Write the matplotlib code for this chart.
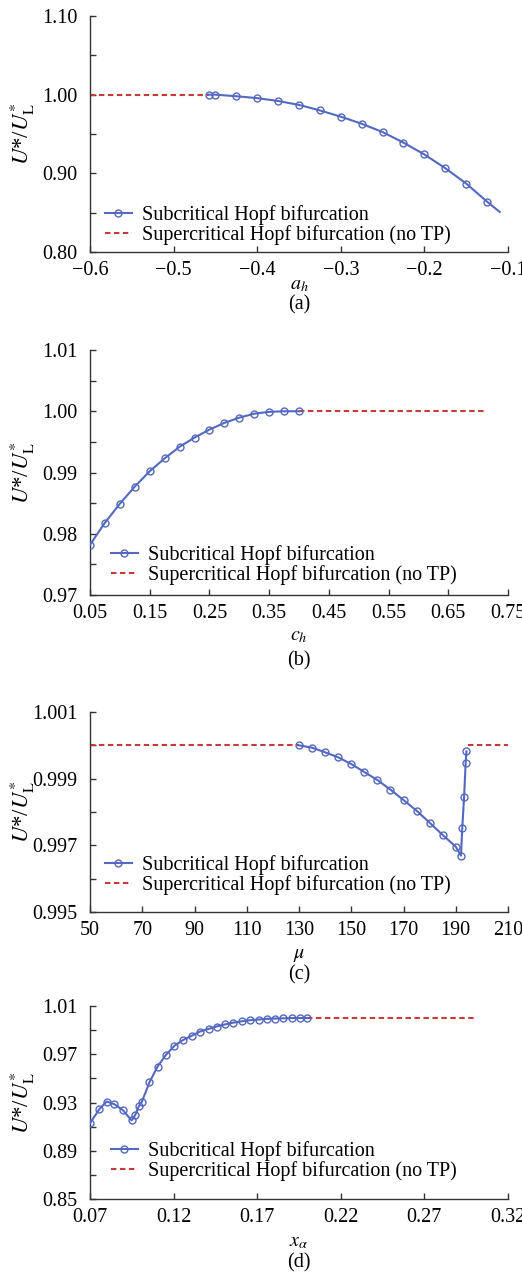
import matplotlib
matplotlib.use("Agg")
import matplotlib.pyplot as plt
from matplotlib.ticker import FuncFormatter

plt.rcParams['font.family'] = ['Liberation Serif', 'DejaVu Serif']
plt.rcParams['mathtext.fontset'] = 'stix'

# ---------------- data ----------------
# (a) a_h
a_sub_x = [-0.458, -0.45, -0.425, -0.40, -0.375, -0.35, -0.325, -0.30, -0.275, -0.25,
           -0.225, -0.20, -0.175, -0.15, -0.125, -0.11]
a_sub_y = [1.000, 1.000, 0.998, 0.9956, 0.992, 0.987, 0.980, 0.972, 0.963, 0.9525,
           0.939, 0.924, 0.9065, 0.887, 0.864, 0.851]
a_sub_mark = list(range(15))
a_sup_x = [-0.60, -0.458]
a_sup_y = [1.000, 1.000]
a_xticks = [-0.6, -0.5, -0.4, -0.3, -0.2, -0.1]
a_yticks = [0.80, 0.90, 1.00, 1.10]
a_yminor = [0.85, 0.95, 1.05]

# (b) c_h
b_sub_x = [0.05, 0.075, 0.10, 0.125, 0.15, 0.175, 0.20, 0.225, 0.25, 0.275, 0.30, 0.325, 0.35, 0.375, 0.40]
b_sub_y = [0.9782, 0.9818, 0.9849, 0.9877, 0.9902, 0.9923, 0.9942, 0.9957, 0.9970, 0.9981,
           0.99895, 0.9996, 0.9999, 1.0000, 1.0000]
b_sup_x = [0.40, 0.71]
b_sup_y = [1.000, 1.000]
b_xticks = [0.05, 0.15, 0.25, 0.35, 0.45, 0.55, 0.65, 0.75]
b_yticks = [0.97, 0.98, 0.99, 1.00, 1.01]
b_yminor = [0.975, 0.985, 0.995, 1.005]

# (c) mu
c_sub_x = [130, 135, 140, 145, 150, 155, 160, 165, 170, 175, 180, 185, 190, 192, 192.5, 193.2, 193.8, 194.1]
c_sub_y = [1.0000, 0.99993, 0.99979, 0.99964, 0.99944, 0.99920, 0.99896, 0.99867, 0.99836,
           0.99804, 0.99768, 0.99731, 0.99696, 0.99669, 0.99753, 0.99846, 0.99948, 0.99982]
c_sup1_x = [50, 130]
c_sup1_y = [1.000, 1.000]
c_sup2_x = [194.5, 210]
c_sup2_y = [1.000, 1.000]
c_xticks = [50, 70, 90, 110, 130, 150, 170, 190, 210]
c_yticks = [0.995, 0.997, 0.999, 1.001]
c_yminor = [0.996, 0.998, 1.000]

# (d) x_alpha
d_sub_x = [0.070, 0.0756, 0.080, 0.0845, 0.0895, 0.0949, 0.0971, 0.0991, 0.1011, 0.1055,
           0.1104, 0.1154, 0.1204, 0.1254, 0.131, 0.1357, 0.1409, 0.1457, 0.1509, 0.1557,
           0.1608, 0.1656, 0.1708, 0.1756, 0.1808, 0.1855, 0.1907, 0.1955, 0.200]
d_sub_y = [0.9129, 0.9245, 0.9308, 0.9286, 0.9239, 0.9151, 0.9198, 0.9267, 0.9308, 0.9466,
           0.9598, 0.9694, 0.9769, 0.9816, 0.9854, 0.9888, 0.9910, 0.9930, 0.9948, 0.9962,
           0.9973, 0.9982, 0.9988, 0.9993, 0.9996, 0.9998, 1.0000, 1.0000, 1.0000]
d_sup_x = [0.200, 0.300]
d_sup_y = [1.000, 1.000]
d_xticks = [0.07, 0.12, 0.17, 0.22, 0.27, 0.32]
d_yticks = [0.85, 0.89, 0.93, 0.97, 1.01]
d_yminor = [0.87, 0.91, 0.95, 0.99]

sub_label = 'Subcritical Hopf bifurcation'
sup_label = 'Supercritical Hopf bifurcation (no TP)'
ylabel = r'$U$*/$U^{*}_{\mathrm{L}}$'

BLUE = '#5468c0'
RED = '#c83a3a'
FS = 14.5

W, H = 522.0, 1276.0
fig = plt.figure(figsize=(W / 100, H / 100), dpi=100)

L, R = 90 / W, 508 / W
panels = [
    dict(top=16, bot=252, xl=r'$a_h$', xly=285, cap='(a)', capy=305),
    dict(top=350, bot=595, xl=r'$c_h$', xly=636, cap='(b)', capy=661),
    dict(top=712, bot=912, xl=r'$\mu$', xly=954, cap='(c)', capy=975),
    dict(top=1006, bot=1199, xl=r'$x_\alpha$', xly=1242, cap='(d)', capy=1263),
]
axes = []
for p in panels:
    ax = fig.add_axes([L, 1 - p['bot'] / H, R - L, (p['bot'] - p['top']) / H])
    axes.append(ax)
    xc = (L + R) / 2
    fig.text(xc, 1 - p['xly'] / H, p['xl'], ha='center', va='center', fontsize=FS)
    fig.text(xc, 1 - p['capy'] / H, p['cap'], ha='center', va='center', fontsize=FS)
    fig.text(22 / W, 1 - (p['top'] + p['bot']) / 2 / H, ylabel, rotation=90,
             ha='center', va='center', fontsize=16.5)


def fmt(spec):
    return FuncFormatter(lambda v, pos: (spec % v).replace('-', '\u2212'))


def style(ax, xticks, xfmt, yticks, yminor, yfmt):
    ax.set_xlim(xticks[0], xticks[-1])
    ax.set_ylim(yticks[0], yticks[-1])
    ax.set_xticks(xticks)
    ax.set_yticks(yticks)
    ax.set_yticks(yminor, minor=True)
    ax.xaxis.set_major_formatter(fmt(xfmt))
    ax.yaxis.set_major_formatter(fmt(yfmt))
    for s in ['top', 'right']:
        ax.spines[s].set_visible(False)
    for s in ['left', 'bottom']:
        ax.spines[s].set_color('#333333')
        ax.spines[s].set_linewidth(1.0)
    ax.tick_params(which='both', direction='in', color='#333333', width=1.0, length=4,
                   labelsize=FS)
    ax.tick_params(axis='y', which='both', pad=9)
    ax.tick_params(axis='x', which='both', pad=6.5)


def sub(ax, x, y, marks=None):
    ax.plot(x, y, color=BLUE, lw=1.5, marker='o', ms=5, mfc='none', mec=BLUE, mew=1.0,
            markevery=marks, label=sub_label, zorder=3)


def sup(ax, x, y, label=True):
    ax.plot(x, y, color=RED, lw=1.5, ls=(0, (2.6, 1.7)), label=sup_label if label else None, zorder=2)


def leg(ax, x0, y0):
    h, l = ax.get_legend_handles_labels()
    ax.legend(h[::-1], l[::-1], loc='lower left', bbox_to_anchor=(x0, y0), frameon=False,
              fontsize=FS, handlelength=1.35, handletextpad=0.5, labelspacing=0.0,
              borderpad=0, borderaxespad=0)


# (a)
ax = axes[0]
sup(ax, a_sup_x, a_sup_y)
sub(ax, a_sub_x, a_sub_y, a_sub_mark)
style(ax, a_xticks, '%.1f', a_yticks, a_yminor, '%.2f')
leg(ax, 0.035, 0.03)

# (b)
ax = axes[1]
sup(ax, b_sup_x, b_sup_y)
sub(ax, b_sub_x, b_sub_y)
style(ax, b_xticks, '%.2f', b_yticks, b_yminor, '%.2f')
leg(ax, 0.05, 0.04)

# (c)
ax = axes[2]
sup(ax, c_sup1_x, c_sup1_y)
sup(ax, c_sup2_x, c_sup2_y, label=False)
sub(ax, c_sub_x, c_sub_y)
style(ax, c_xticks, '%d', c_yticks, c_yminor, '%.3f')
leg(ax, 0.035, 0.085)

# (d)
ax = axes[3]
sup(ax, d_sup_x, d_sup_y)
sub(ax, d_sub_x, d_sub_y)
style(ax, d_xticks, '%.2f', d_yticks, d_yminor, '%.2f')
leg(ax, 0.05, 0.095)

fig.savefig('out.png', dpi=100, facecolor='white')
